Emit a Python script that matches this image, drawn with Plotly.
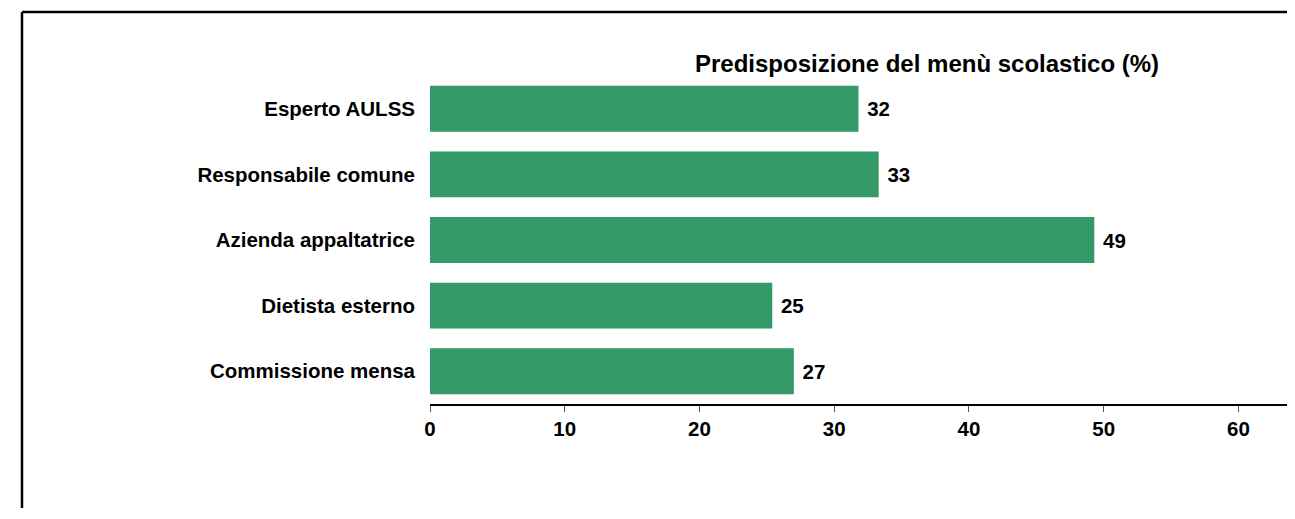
import plotly.graph_objects as go

# categories top -> bottom, as they appear in the chart
categories = ["Esperto AULSS", "Responsabile comune", "Azienda appaltatrice",
              "Dietista esterno", "Commissione mensa"]
values = [31.8, 33.3, 49.3, 25.4, 27.0]
labels = ["32", "33", "49", "25", "27"]
tick_vals = [0, 10, 20, 30, 40, 50, 60]

title_text = "Predisposizione del menù scolastico (%)"

font_family = "Liberation Sans, Arial, sans-serif"

# page has an 8px body margin, so the figure is sized to fit inside it
W, H = 1279, 500
ML, MT, PH = 422, 68, 328
MB = H - MT - PH
pw = W - ML

fig = go.Figure(go.Bar(
    x=values,
    y=categories,
    orientation="h",
    marker=dict(color="#339966", line=dict(width=0)),
    text=["<b>\u00a0" + t + "</b>" for t in labels],
    textposition="outside",
    textfont=dict(family=font_family, size=20.5, color="black"),
    cliponaxis=False,
))

fig.update_layout(
    width=W,
    height=H,
    margin=dict(l=ML, r=0, t=MT, b=MB),
    paper_bgcolor="white",
    plot_bgcolor="white",
    bargap=0.30,
    showlegend=False,
    font=dict(family=font_family, color="black"),
)

fig.update_xaxes(
    range=[0, 63.6],
    tickvals=tick_vals,
    ticktext=["<b>" + str(t) + "</b>" for t in tick_vals],
    showgrid=False,
    zeroline=False,
    showline=True,
    linecolor="black",
    linewidth=1.5,
    ticks="outside",
    ticklen=6,
    tickcolor="#555555",
    tickfont=dict(family=font_family, size=20.5, color="black"),
)

fig.update_yaxes(
    categoryorder="array",
    categoryarray=categories[::-1],
    tickvals=categories,
    ticktext=["<b>" + c + "</b>" for c in categories],
    showgrid=False,
    zeroline=False,
    showline=False,
    ticks="",
    ticklabelstandoff=14,
    tickfont=dict(family=font_family, size=20.5, color="black"),
)

# chart title
fig.add_annotation(
    text="<b>" + title_text + "</b>",
    xref="paper", yref="paper",
    x=(927 - 430) / pw, y=1.0,
    xanchor="center", yanchor="bottom",
    yshift=-3,
    showarrow=False,
    font=dict(family=font_family, size=24, color="black"),
)

# outer frame: only top and left edges are visible, kept inside the figure
fy = (PH + MT - 4) / PH
fx = (14 - ML) / pw
fbottom = -MB / PH
fig.add_shape(type="line", xref="paper", yref="paper",
              x0=fx, x1=1.0, y0=fy, y1=fy,
              line=dict(color="black", width=2.5))
fig.add_shape(type="line", xref="paper", yref="paper",
              x0=fx, x1=fx, y0=fy, y1=fbottom,
              line=dict(color="black", width=2.5))

fig.write_html("out.html")
